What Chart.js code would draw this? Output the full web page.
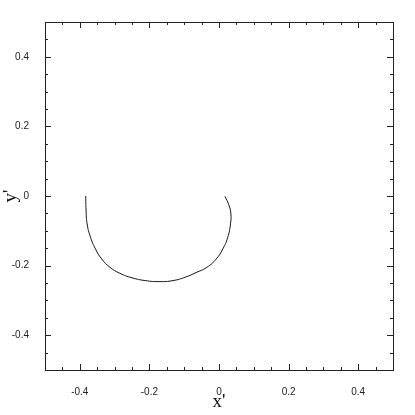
<!DOCTYPE html>
<html>
<head>
<meta charset="utf-8">
<script src="https://cdn.jsdelivr.net/npm/chart.js@4"></script>
<style>
  html, body { margin: 0; padding: 0; background: #fff; }
  #wrap { width: 415px; height: 415px; }
</style>
</head>
<body>
<div id="wrap"><canvas id="chart" width="415" height="415"></canvas></div>
<script>
// curve
const curveX = [-0.383, -0.382, -0.379, -0.369, -0.355, -0.337, -0.313, -0.285, -0.250, -0.212, -0.172, -0.132, -0.096, -0.066, -0.035, -0.008, 0.011, 0.025, 0.033, 0.034, 0.028, 0.017];
const curveY = [0.000, -0.040, -0.080, -0.119, -0.152, -0.181, -0.205, -0.222, -0.235, -0.243, -0.246, -0.243, -0.233, -0.220, -0.205, -0.181, -0.152, -0.119, -0.080, -0.050, -0.025, -0.001];
const tickVals = [-0.4, -0.2, 0, 0.2, 0.4];
const axisMin = -0.5, axisMax = 0.5;

const points = curveX.map((x, i) => ({ x: x, y: curveY[i] }));
const tickFont = { family: 'Liberation Sans, Arial, sans-serif', size: 10 };
const titleFont = { family: 'Liberation Serif, Times New Roman, serif', size: 19 };

// ticks pointing inward on all four sides, border box
const frame = {
  id: 'frame',
  afterDraw(chart) {
    const ctx = chart.ctx, a = chart.chartArea;
    const sx = chart.scales.x, sy = chart.scales.y;
    ctx.save();
    ctx.strokeStyle = '#222';
    ctx.lineWidth = 1;
    ctx.strokeRect(Math.round(a.left) + 0.5, Math.round(a.top) + 0.5,
      Math.round(a.right - a.left), Math.round(a.bottom - a.top));
    ctx.beginPath();
    for (let k = -10; k <= 10; k++) {
      const v = k * 0.05;
      if (v <= axisMin + 1e-9 || v >= axisMax - 1e-9) continue;
      const major = tickVals.some(t => Math.abs(t - v) < 1e-6);
      const len = major ? 6 : 3;
      const px = Math.round(sx.getPixelForValue(v)) + 0.5;
      const py = Math.round(sy.getPixelForValue(v)) + 0.5;
      ctx.moveTo(px, a.bottom); ctx.lineTo(px, a.bottom - len);
      ctx.moveTo(px, a.top); ctx.lineTo(px, a.top + len);
      ctx.moveTo(a.left, py); ctx.lineTo(a.left + len, py);
      ctx.moveTo(a.right, py); ctx.lineTo(a.right - len, py);
    }
    ctx.stroke();
    ctx.restore();
  }
};

const fmt = v => (Math.abs(v) < 1e-9 ? '0' : String(Math.round(v * 10) / 10));

new Chart(document.getElementById('chart'), {
  type: 'scatter',
  data: {
    datasets: [{
      data: points,
      showLine: true,
      borderColor: '#111',
      borderWidth: 1,
      pointRadius: 0,
      tension: 0.5,
      fill: false
    }]
  },
  options: {
    responsive: false,
    animation: false,
    layout: { padding: { top: 22, right: 22, left: 0, bottom: 0 } },
    plugins: { legend: { display: false }, tooltip: { enabled: false } },
    scales: {
      x: {
        type: 'linear', min: axisMin, max: axisMax,
        afterBuildTicks: s => { s.ticks = tickVals.map(v => ({ value: v })); },
        afterFit: s => { s.height = 45; },
        grid: { display: false },
        border: { display: false },
        ticks: { font: tickFont, color: '#222', padding: 8, maxRotation: 0, callback: fmt },
        title: { display: true, text: "x'", font: titleFont, color: '#111', padding: { top: 0, bottom: 2 } }
      },
      y: {
        type: 'linear', min: axisMin, max: axisMax,
        afterBuildTicks: s => { s.ticks = tickVals.map(v => ({ value: v })); },
        afterFit: s => { s.width = 45; },
        grid: { display: false },
        border: { display: false },
        ticks: { font: tickFont, color: '#222', padding: 8, callback: fmt },
        title: { display: true, text: "y'", font: titleFont, color: '#111', padding: { top: 0, bottom: 0 } }
      }
    }
  },
  plugins: [frame]
});
</script>
</body>
</html>
